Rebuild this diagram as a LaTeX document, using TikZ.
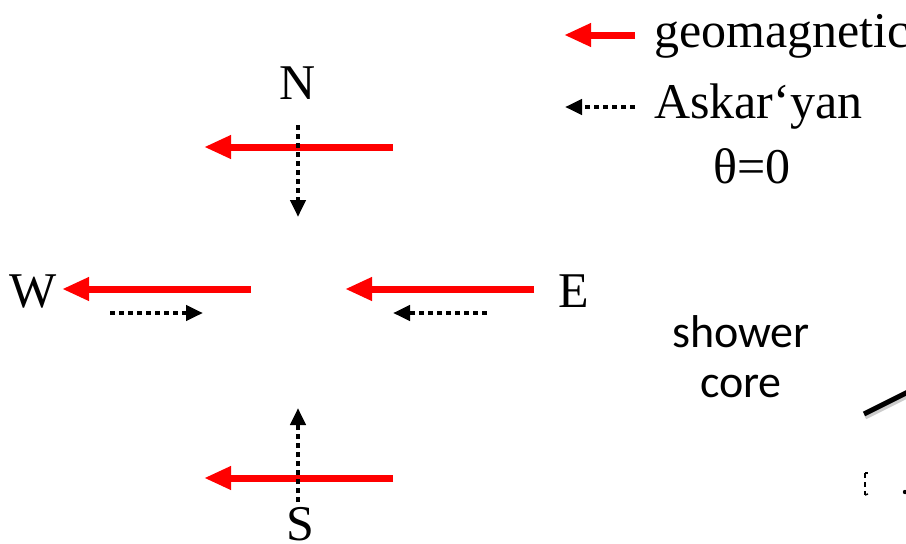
\documentclass[tikz,border=0pt]{standalone}
\usepackage{fontspec}
\setmainfont{Liberation Serif}
\newfontfamily\calib{Carlito}
\usetikzlibrary{arrows.meta}
\tikzset{
  geo/.style={draw=red, line width=7pt, -{Triangle[length=27pt,width=22pt]}, red},
  ask/.style={draw=black, line width=4.2pt, dash pattern=on 5pt off 4pt,
              -{Triangle[length=17pt,width=15pt]}},
  lbl/.style={inner sep=0pt, font=\fontsize{50}{50}\selectfont},
  sans/.style={inner sep=0pt, font=\calib\fontsize{46}{50}\selectfont, align=center},
}
\begin{document}
\begin{tikzpicture}[x=1pt,y=-1pt]
\path[use as bounding box] (0,0) rectangle (906,544);
\clip (0,0) rectangle (906,544);

% ---- compass labels
\node[lbl, anchor=base] (N) at (298,99) {N};
\node[lbl, anchor=base] (S) at (300,540) {S};
\node[lbl, anchor=base west] (W) at (9,307) {W};
\node[lbl, anchor=base west] (E) at (558,307) {E};

% ---- endpoints
\coordinate (nrs) at (393,147); \coordinate (nrt) at (204,147);
\coordinate (nds) at (298,125); \coordinate (ndt) at (298,217);
\coordinate (wrs) at (251,289); \coordinate (wrt) at (62,289);
\coordinate (wds) at (110,313); \coordinate (wdt) at (203,313);
\coordinate (ers) at (534,289); \coordinate (ert) at (345,289);
\coordinate (eds) at (487,313); \coordinate (edt) at (393,313);
\coordinate (srs) at (393,478); \coordinate (srt) at (204,478);
\coordinate (sds) at (298,502); \coordinate (sdt) at (298,408);

% ---- arrows
\draw[geo] (nrs) -- (nrt);
\draw[ask] (nds) -- (ndt);
\draw[geo] (wrs) -- (wrt);
\draw[ask] (wds) -- (wdt);
\draw[geo] (ers) -- (ert);
\draw[ask] (eds) -- (edt);
\draw[geo] (srs) -- (srt);
\draw[ask] (sds) -- (sdt);

% ---- legend
\coordinate (lgs) at (635,35); \coordinate (lgt) at (564,35);
\coordinate (las) at (635,107); \coordinate (lat) at (565,107);
\draw[geo] (lgs) -- (lgt);
\draw[ask] (las) -- (lat);
\node[lbl, anchor=base west] (geotxt) at (654,47) {geomagnetic};
\node[lbl, anchor=base west] (asktxt) at (654,118) {Askar‘yan};
\node[lbl, anchor=base] (theta) at (752,183) {θ=0};

% ---- shower core
\node[sans, anchor=base] (sh) at (741,347) {shower};
\node[sans, anchor=base] (co) at (741,397) {core};

% ---- partial line at right edge
\coordinate (l1) at (864,414); \coordinate (l2) at (930,381);
\draw[line width=5pt, black!20] ([shift={(1,3)}]l1) -- ([shift={(1,3)}]l2);
\draw[line width=5pt] (l1) -- (l2);

% ---- small fragments
\coordinate (f1) at (865,473); \coordinate (f2) at (865,495);
\draw[line width=1.8pt, dash pattern=on 5pt off 4pt] (f1) -- (f2);
\draw[line width=1.5pt] (f1) -- ++(3,0);
\draw[line width=1.5pt] (f2) -- ++(3,-1);
\fill (905,492) circle (2.2);
\end{tikzpicture}
\end{document}
